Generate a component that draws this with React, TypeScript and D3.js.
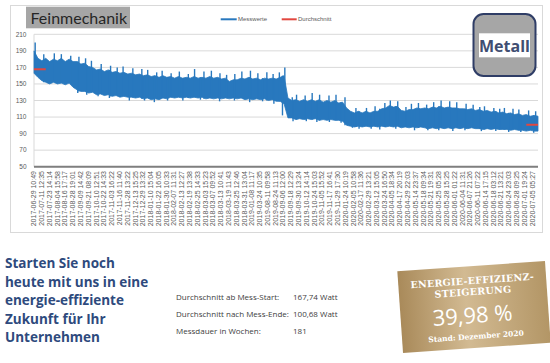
import React from 'react';
import * as d3 from 'd3';

const chartTitle = 'Feinmechanik';
const badgeLabel = 'Metall';
const yTicks = [50, 70, 90, 110, 130, 150, 170, 190, 210];
const seriesNames = ['Messwerte', 'Durchschnitt'];

const xLabels = [
  '2017-06-29 10:49', '2017-07-11 12:35', '2017-07-23 14:14', '2017-08-04 15:58', '2017-08-16 17:17',
  '2017-08-28 19:01', '2017-09-09 14:42', '2017-09-21 08:09', '2017-10-10 12:51', '2017-10-22 14:33',
  '2017-11-03 16:22', '2017-11-16 11:40', '2017-11-28 13:22', '2017-12-13 15:25', '2017-12-29 13:32',
  '2018-01-10 15:04', '2018-01-22 16:05', '2018-01-30 10:33', '2018-02-07 11:31', '2018-02-13 12:27',
  '2018-02-19 13:38', '2018-02-25 14:33', '2018-03-03 15:23', '2018-03-07 09:52', '2018-03-13 10:41',
  '2018-03-19 11:43', '2018-03-25 12:46', '2018-03-31 13:04', '2019-01-08 11:17', '2019-03-24 10:35',
  '2019-08-11 09:58', '2019-08-24 11:13', '2019-09-06 12:00', '2019-09-18 12:29', '2019-09-30 13:24',
  '2019-10-12 14:14', '2019-10-24 15:03', '2019-11-05 15:52', '2019-11-17 16:41', '2019-11-29 17:30',
  '2020-01-24 10:19', '2020-02-05 10:58', '2020-02-17 11:36', '2020-02-29 13:21', '2020-03-12 15:05',
  '2020-03-24 16:50', '2020-04-05 18:34', '2020-04-17 20:19', '2020-04-29 22:03', '2020-05-14 23:37',
  '2020-05-18 09:34', '2020-05-21 19:31', '2020-05-25 05:28', '2020-05-28 15:25', '2020-06-01 01:22',
  '2020-06-04 11:31', '2020-06-07 21:26', '2020-06-11 07:22', '2020-06-14 17:15', '2020-06-18 03:12',
  '2020-06-21 13:21', '2020-06-24 23:03', '2020-06-28 09:25', '2020-07-01 19:24', '2020-07-05 05:27',
];

const upperValues = [
  190, 181, 178, 181, 177, 180, 178, 181, 177, 180,
  177, 177, 174, 175, 171, 170, 167, 168, 165, 167,
  164, 165, 163, 164, 162, 163, 161, 162, 160, 161,
  159, 160, 158, 160, 158, 159, 157, 159, 157, 158,
  157, 159, 157, 158, 157, 159, 157, 158, 156, 157,
  153, 155, 155, 157, 156, 158, 156, 157, 155, 157,
  156, 157, 156, 158, 160, 133, 130, 131, 129, 131,
  129, 131, 129, 131, 128, 130, 128, 130, 127, 128,
  121, 117, 115, 117, 115, 117, 115, 117, 117, 120,
  121, 124, 122, 123, 118, 117, 119, 119, 121, 120,
  121, 120, 122, 121, 123, 121, 122, 121, 121, 120,
  120, 119, 120, 118, 119, 117, 118, 116, 117, 115,
  116, 114, 115, 113, 114, 112, 113, 111, 112, 111,
];
const lowerValues = [
  163, 158, 154, 152, 150, 152, 150, 151, 149, 151,
  146, 143, 141, 141, 139, 140, 137, 138, 136, 137,
  135, 136, 134, 135, 134, 134, 133, 134, 132, 133,
  131, 132, 131, 133, 132, 134, 133, 134, 133, 134,
  133, 134, 133, 134, 132, 133, 132, 133, 132, 133,
  132, 133, 132, 133, 131, 132, 131, 132, 131, 132,
  130, 131, 129, 129, 126, 109, 109, 107, 108, 107,
  108, 107, 108, 106, 107, 106, 107, 106, 106, 105,
  100, 99, 98, 99, 98, 99, 98, 99, 98, 99,
  98, 99, 98, 99, 97, 98, 97, 98, 97, 98,
  97, 96, 97, 96, 97, 96, 97, 96, 97, 96,
  97, 96, 97, 96, 96, 95, 96, 95, 96, 95,
  95, 95, 94, 95, 94, 94, 93, 94, 93, 93,
];

// Individual peaks above / dips below the band: [position (sample index), value]
const peaksUp: [number, number][] = [
  [0.3, 200], [2.5, 186], [5.2, 187], [7, 186], [9.4, 184], [11.5, 183], [13.2, 181], [14.7, 178],
  [17.2, 174], [19.6, 172], [21.3, 170], [22.8, 171], [25.3, 169], [27.6, 168], [29.1, 167], [31.4, 164],
  [32.8, 166], [35.1, 163], [37.2, 165], [39.5, 162], [41.1, 168], [43.5, 165], [45.4, 166], [47.6, 163],
  [49.3, 161], [51.4, 162], [53.2, 165], [55.4, 166], [57.3, 163], [59.6, 164], [61.2, 162], [62.8, 164],
  [64.2, 170], [66.1, 134], [67.2, 137], [69.4, 136], [71.2, 139], [73.1, 137], [75.5, 136], [77.3, 137],
  [79.6, 134], [82.4, 121], [85.1, 121], [87.3, 123], [89.8, 127], [91.2, 130], [93.1, 129], [95.2, 122],
  [96.6, 126], [98.4, 127], [100.5, 125], [102.3, 128], [104.2, 130], [106.4, 129], [108.2, 128],
  [110.6, 126], [112.4, 125], [114.1, 122], [115.3, 123], [117.7, 121], [119.2, 120], [120.4, 121],
  [122.6, 120], [124.1, 119], [126.6, 118], [128.4, 117],
];
const dipsDown: [number, number][] = [
  [11.2, 139], [13.5, 137], [16.4, 135], [19.3, 133], [24.4, 130], [28.3, 130], [30.8, 128], [34.2, 130],
  [38.1, 130], [42.6, 131], [47.5, 129], [51.3, 130], [55.2, 128], [58.5, 129], [61.4, 126], [63.6, 112],
  [66.3, 105], [69.7, 105], [72.4, 104], [75.6, 104], [78.6, 103], [81.5, 97], [83.2, 96], [86.3, 96],
  [88.5, 95], [92.6, 96], [97.4, 94], [100.8, 94], [103.6, 94], [107.2, 93], [110.3, 94], [114.5, 93],
  [118.2, 93], [121.5, 92], [124.6, 92], [127.9, 91],
];

const avgStart = 167.74;
const avgEnd = 100.68;
const avgStartSpan = [0, 3];
const avgEndSpan = [126, 129];

const ctaLines = ['Starten Sie noch', 'heute mit uns in eine', 'energie-effiziente', 'Zukunft für Ihr', 'Unternehmen'];
const statLabels = ['Durchschnitt ab Mess-Start:', 'Durchschnitt nach Mess-Ende:', 'Messdauer in Wochen:'];
const statValues = ['167,74 Watt', '100,68 Watt', '181'];
const badgeLines = ['ENERGIE-EFFIZIENZ-', 'STEIGERUNG'];
const badgeValue = '39,98 %';
const badgeDate = 'Stand: Dezember 2020';

const BLUE = '#2878be';
const RED = '#e2473f';

export default function App() {
  const left = 34, right = 538, top = 34.3, bottom = 166.7;
  const y = d3.scaleLinear().domain([50, 210]).range([bottom, top]);
  const xData = d3.scaleLinear().domain([0, upperValues.length - 1]).range([left, right]);
  const xLab = d3.scaleLinear().domain([0, xLabels.length - 1]).range([left, 532.3]);

  const band = d3.area<number>()
    .x((_, i) => xData(i))
    .y0((_, i) => y(lowerValues[i]))
    .y1(d => y(d))
    .curve(d3.curveLinear);

  const avgLine = d3.line<number>().x(i => xData(i)).y(() => 0);
  const startIdx = d3.range(avgStartSpan[0], avgStartSpan[1] + 1);
  const endIdx = d3.range(avgEndSpan[0], avgEndSpan[1] + 1);

  const font = 'Liberation Sans, Arial, sans-serif';

  return (
    <svg width={550} height={363} style={{ position: 'absolute', left: 0, top: 0, background: '#fff' }}>
      <defs>
        <linearGradient id="gold" x1="0" x2="1" y1="0" y2="0">
          <stop offset="0" stopColor="#a98a5a" />
          <stop offset="0.45" stopColor="#d2ba92" />
          <stop offset="1" stopColor="#b39666" />
        </linearGradient>
      </defs>
      {/* chart frame */}
      <rect x={10.5} y={5.5} width={532} height={227} fill="#fff" stroke="#d9d9d9" />

      {/* gridlines */}
      {yTicks.map(t => (
        <line key={t} x1={left} x2={right} y1={y(t)} y2={y(t)} stroke="#d9d9d9" strokeWidth={1} />
      ))}
      {yTicks.map(t => (
        <text key={'l' + t} x={26.5} y={y(t) + 2.3} fontSize={6.5} fill="#595959" textAnchor="end" fontFamily={font}>{t}</text>
      ))}
      <line x1={left} x2={left} y1={top} y2={bottom} stroke="#d9d9d9" />

      {/* measured band */}
      <path d={band(upperValues) || ''} fill={BLUE} stroke={BLUE} strokeWidth={0.8} strokeLinejoin="round" />
      {peaksUp.map(([p, v], i) => (
        <line key={'u' + i} x1={xData(p)} x2={xData(p)} y1={y(v)} y2={y(lowerValues[Math.round(p)])} stroke={BLUE} strokeWidth={1.4} />
      ))}
      {dipsDown.map(([p, v], i) => (
        <line key={'d' + i} x1={xData(p)} x2={xData(p)} y1={y(upperValues[Math.round(p)])} y2={y(v)} stroke={BLUE} strokeWidth={1.4} />
      ))}

      {/* averages */}
      <path d={avgLine.y(() => y(avgStart))(startIdx) || ''} stroke={RED} strokeWidth={2} fill="none" />
      <path d={avgLine.y(() => y(avgEnd))(endIdx) || ''} stroke={RED} strokeWidth={2} fill="none" />

      {/* x axis */}
      <line x1={left} x2={right} y1={bottom} y2={bottom} stroke="#7f7f7f" strokeWidth={2} />
      {xLabels.map((l, i) => (
        <text key={l + i} transform={`translate(${xLab(i) + 2.3},${171}) rotate(-90)`} fontSize={7} fill="#595959"
          textAnchor="end" fontFamily={font}>{l}</text>
      ))}

      {/* legend */}
      <line x1={220.7} x2={236.7} y1={19.3} y2={19.3} stroke={BLUE} strokeWidth={2} />
      <text x={238} y={21.3} fontSize={6} fill="#595959" fontFamily={font}>{seriesNames[0]}</text>
      <line x1={281.7} x2={296.7} y1={19.3} y2={19.3} stroke={RED} strokeWidth={2} />
      <text x={298} y={21.3} fontSize={6} fill="#595959" fontFamily={font}>{seriesNames[1]}</text>

      {/* title */}
      <rect x={26} y={6.7} width={104} height={21.6} fill="#a6a6a6" />
      <text x={30.5} y={24} fontSize={16} fill="#262626" fontFamily="Lato, sans-serif">{chartTitle}</text>

      {/* Metall box */}
      <rect x={473.5} y={14} width={62} height={62} rx={10} fill="#a6a6a6" stroke="#2f3d66" strokeWidth={2} />
      <rect x={479} y={33.3} width={51} height={24} fill="#fff" />
      <text x={504.5} y={51.7} fontSize={16} fontWeight="bold" fill="#404e72" textAnchor="middle" fontFamily="Open Sans, sans-serif">{badgeLabel}</text>

      {/* call to action */}
      {ctaLines.map((t, i) => (
        <text key={t} x={5} y={268 + i * 18.5} fontSize={13.5} fontWeight="bold" fill="#2e4a7d" fontFamily="Open Sans, sans-serif">{t}</text>
      ))}

      {/* stats */}
      {statLabels.map((t, i) => (
        <text key={t} x={176} y={300 + i * 17} fontSize={8} fill="#404040" fontFamily="Open Sans, sans-serif">{t}</text>
      ))}
      {statValues.map((t, i) => (
        <text key={'v' + i} x={293} y={300 + i * 17} fontSize={8} fill="#404040" fontFamily="Open Sans, sans-serif">{t}</text>
      ))}

      {/* badge */}
      <g transform="translate(474,307) rotate(-4)">
        <rect x={-74} y={-41} width={148} height={82} fill="url(#gold)" />
        <text x={0} y={-23} fontSize={9.5} fontWeight="bold" fill="#fff" textAnchor="middle" fontFamily="DejaVu Serif, serif" letterSpacing={0.3}>{badgeLines[0]}</text>
        <text x={0} y={-12} fontSize={9.5} fontWeight="bold" fill="#fff" textAnchor="middle" fontFamily="DejaVu Serif, serif" letterSpacing={0.3}>{badgeLines[1]}</text>
        <text x={-2} y={16} fontSize={22} fill="#fff" textAnchor="middle" fontFamily="Open Sans, sans-serif">{badgeValue}</text>
        <text x={0} y={32} fontSize={7.5} fontWeight="bold" fill="#fff" textAnchor="middle" fontFamily="DejaVu Serif, serif">{badgeDate}</text>
      </g>
    </svg>
  );
}
